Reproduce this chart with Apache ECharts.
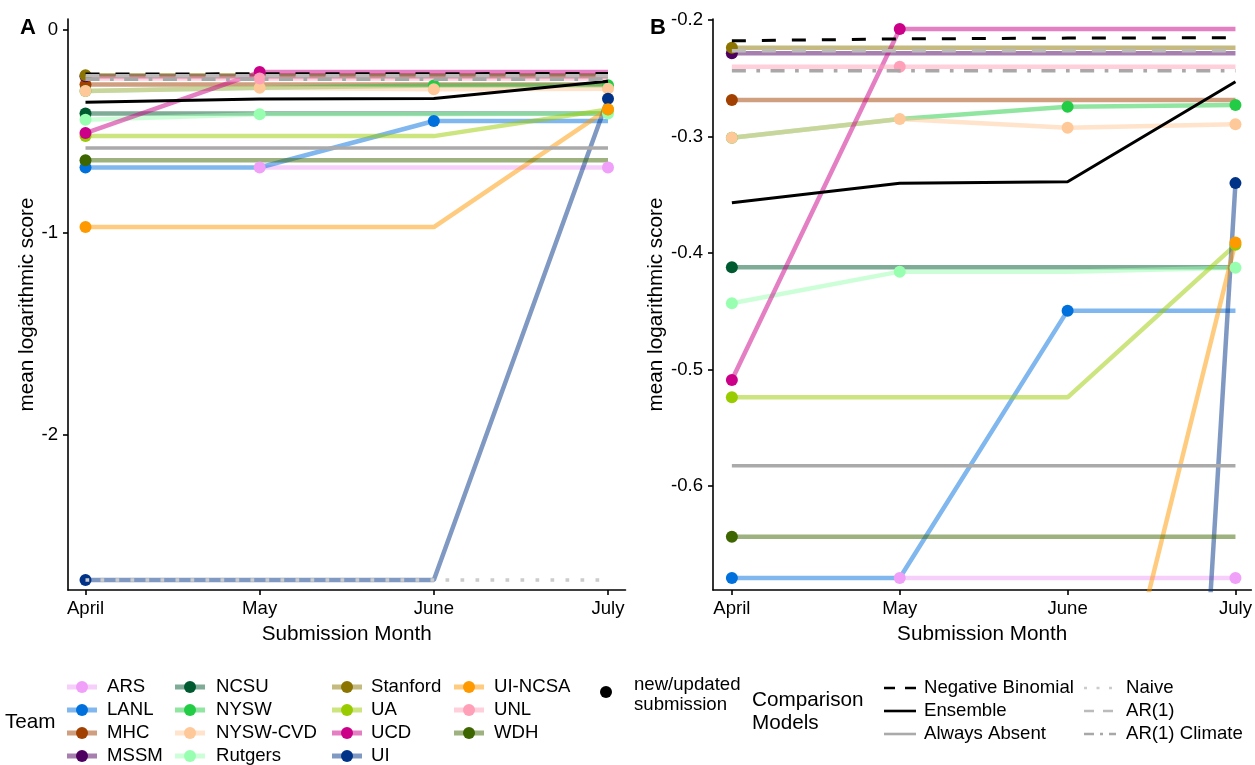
<!DOCTYPE html>
<html><head><meta charset="utf-8">
<script src="https://cdn.jsdelivr.net/npm/echarts@6/dist/echarts.min.js"></script>
<style>html,body{margin:0;padding:0;background:#fff}#c{width:1255px;height:765px}</style>
</head><body><div id="c"></div>
<script>
var months = ['April', 'May', 'June', 'July'];
var teamNames = ['ARS','LANL','MHC','MSSM','NCSU','NYSW','NYSW-CVD','Rutgers','Stanford','UA','UCD','UI','UI-NCSA','UNL','WDH'];
var teamColors = ['#F0A0F8','#0070DD','#A14000','#4D0060','#005A30','#22CC44','#FFC898','#99FFB0','#8B7500','#99CC00','#CC0088','#003388','#FF9900','#FFA0B8','#3D6600'];
// mean logarithmic score per month (April..July); null = no submission yet
var ARS      = [null, -0.679, -0.679, -0.679];
var LANL     = [-0.679, -0.679, -0.4495, -0.4495];
var MHC      = [-0.2687, -0.2687, -0.2687, -0.2687];
var MSSM     = [-0.2286, -0.2286, -0.2286, -0.2286];
var NCSU     = [-0.4123, -0.4123, -0.4123, -0.4123];
var NYSW     = [-0.301, -0.285, -0.2744, -0.273];
var NYSW_CVD = [-0.301, -0.285, -0.2924, -0.2895];
var Rutgers  = [-0.4432, -0.416, -0.416, -0.4126];
var Stanford = [-0.2238, -0.2238, -0.2238, -0.2238];
var UA       = [-0.5239, -0.5239, -0.5239, -0.393];
var UCD      = [-0.509, -0.2077, -0.2077, -0.2077];
var UI       = [-2.716, -2.716, -2.716, -0.340];
var UI_NCSA  = [-0.973, -0.973, -0.973, -0.391];
var UNL      = [-0.240, -0.240, -0.240, -0.240];
var WDH      = [-0.6435, -0.6435, -0.6435, -0.6435];
var teamValues = [ARS, LANL, MHC, MSSM, NCSU, NYSW, NYSW_CVD, Rutgers, Stanford, UA, UCD, UI, UI_NCSA, UNL, WDH];
// 1 = new/updated submission that month
var teamNew = [
  [0,1,0,1],[1,0,1,0],[1,0,0,0],[1,0,0,0],[1,0,0,0],[1,0,1,1],[1,1,1,1],[1,1,0,1],
  [1,0,0,0],[1,0,0,1],[1,1,0,0],[1,0,0,1],[1,0,0,1],[0,1,0,0],[1,0,0,0]
];
var compNames = ['Negative Binomial','Ensemble','Always Absent','Naive','AR(1)','AR(1) Climate'];
var NegBinomial  = [-0.2178, -0.2162, -0.2155, -0.2152];
var Ensemble     = [-0.3568, -0.3402, -0.3388, -0.253];
var AlwaysAbsent = [-0.5826, -0.5826, -0.5826, -0.5826];
var Naive        = [-2.716, -2.716, -2.716, -2.716];
var AR1          = [-0.2263, -0.2263, -0.2263, -0.2263];
var AR1Climate   = [-0.2435, -0.2435, -0.2435, -0.2435];
var compValues = [NegBinomial, Ensemble, AlwaysAbsent, Naive, AR1, AR1Climate];
var compColors = ['#000000','#000000','#AAAAAA','#CCCCCC','#BBBBBB','#A8A8A8'];
var compDash = [[14,16],'solid','solid',[3.7,11.3],[14,16],[14,10.5,3.7,10.5]];
var compLegendDash = [[11,10],'solid','solid',[3,9.5],[10,9],[10,6,3,6]];
var yTicksA = [0, -1, -2];
var yTicksB = [-0.2, -0.3, -0.4, -0.5, -0.6];

var FONT = 'Liberation Sans, Arial, Helvetica, sans-serif';
var LBL = 18.6, TTL = 20.7;
var chart = echarts.init(document.getElementById('c'), null, {renderer: 'canvas'});

function xAxisDef(idx, min, max) {
  return {
    type: 'value', gridIndex: idx, min: min, max: max,
    name: 'Submission Month', nameLocation: 'middle', nameGap: 34,
    nameTextStyle: {fontSize: TTL, color: '#000', fontFamily: FONT},
    axisLine: {show: true, onZero: false, lineStyle: {color: '#000', width: 1.6}},
    axisTick: {show: true, length: 5, customValues: [0,1,2,3], lineStyle: {color: '#000', width: 1.6}},
    axisLabel: {customValues: [0,1,2,3], margin: 9, fontSize: LBL, color: '#000', fontFamily: FONT,
      formatter: function (v) { return months[Math.round(v)]; }},
    splitLine: {show: false}
  };
}
function yAxisDef(idx, min, max, ticks, gap) {
  return {
    type: 'value', gridIndex: idx, min: min, max: max,
    name: 'mean logarithmic score', nameLocation: 'middle', nameGap: gap,
    nameTextStyle: {fontSize: TTL, color: '#000', fontFamily: FONT},
    axisLine: {show: true, onZero: false, lineStyle: {color: '#000', width: 1.6}},
    axisTick: {show: true, length: 5, customValues: ticks, lineStyle: {color: '#000', width: 1.6}},
    axisLabel: {customValues: ticks, margin: 10, fontSize: LBL, color: '#000', fontFamily: FONT,
      formatter: function (v) { return String(v); }},
    splitLine: {show: false}
  };
}

var series = [];
for (var p = 0; p < 2; p++) {
  teamNames.forEach(function (name, t) {
    var vals = teamValues[t];
    var lineData = [], ptData = [];
    vals.forEach(function (v, i) {
      if (v === null) return;
      lineData.push([i, v]);
      if (teamNew[t][i]) ptData.push([i, v]);
    });
    series.push({
      type: 'line', name: name, xAxisIndex: p, yAxisIndex: p, data: lineData,
      showSymbol: false, symbol: 'none', z: 2, silent: true, clip: true,
      lineStyle: {color: teamColors[t], width: 4.5, opacity: 0.5}
    });
    series.push({
      type: 'scatter', name: name + ' pts', xAxisIndex: p, yAxisIndex: p, data: ptData,
      symbol: 'circle', symbolSize: 12, z: 3, silent: true, clip: true,
      itemStyle: {color: teamColors[t], opacity: 1}
    });
  });
  compNames.forEach(function (name, c) {
    series.push({
      type: 'line', name: name, xAxisIndex: p, yAxisIndex: p,
      data: compValues[c].map(function (v, i) { return [i, v]; }),
      showSymbol: false, symbol: 'none', z: 4, silent: true, clip: true,
      lineStyle: {color: compColors[c], width: (c < 2 ? 3 : 3.5), type: compDash[c], cap: 'butt'}
    });
  });
}

// legend graphics
var g = [];
function txt(x, y, s, size, extra) {
  return {type: 'text', x: x, y: y, silent: true,
    style: {text: s, fill: '#000', font: (extra || '') + size + 'px ' + FONT, verticalAlign: 'middle', align: 'left'}};
}
g.push(txt(20, 28, 'A', 22, 'bold '));
g.push(txt(650, 28, 'B', 22, 'bold '));
g.push(txt(5, 722, 'Team', TTL));
var colKey = [82, 190, 347, 469], colText = [107, 216, 371, 494];
teamNames.forEach(function (name, t) {
  var col = Math.floor(t / 4), row = t % 4;
  var cy = 687 + row * 23, cx = colKey[col];
  g.push({type: 'line', silent: true, shape: {x1: cx - 15, y1: cy, x2: cx + 15, y2: cy},
    style: {stroke: teamColors[t], lineWidth: 5, opacity: 0.5}});
  g.push({type: 'circle', silent: true, shape: {cx: cx, cy: cy, r: 6}, style: {fill: teamColors[t]}});
  g.push(txt(colText[col], cy, name, LBL));
});
g.push({type: 'circle', silent: true, shape: {cx: 606, cy: 692, r: 6}, style: {fill: '#000'}});
g.push(txt(634, 685, 'new/updated', LBL));
g.push(txt(634, 705, 'submission', LBL));
g.push(txt(752, 700, 'Comparison', TTL));
g.push(txt(752, 723, 'Models', TTL));
var cKeyX = [884, 1084], cTextX = [924, 1126];
compNames.forEach(function (name, c) {
  var col = Math.floor(c / 3), row = c % 3;
  var cy = 688 + row * 23;
  g.push({type: 'line', silent: true, shape: {x1: cKeyX[col], y1: cy, x2: cKeyX[col] + 32, y2: cy},
    style: {stroke: compColors[c], lineWidth: 2.6, lineDash: compLegendDash[c] === 'solid' ? null : compLegendDash[c]}});
  g.push(txt(cTextX[col], cy, name, LBL));
});

chart.setOption({
  animation: false,
  backgroundColor: '#ffffff',
  grid: [
    {left: 68, top: 19, width: 557.5, height: 571, containLabel: false},
    {left: 713, top: 19, width: 542, height: 571, containLabel: false}
  ],
  xAxis: [xAxisDef(0, -0.1005, 3.1005), xAxisDef(1, -0.1124, 3.0947)],
  yAxis: [yAxisDef(0, -2.765, 0.0543, yTicksA, 27), yAxisDef(1, -0.6893, -0.1991, yTicksB, 42)],
  series: series,
  graphic: g
});
</script></body></html>
